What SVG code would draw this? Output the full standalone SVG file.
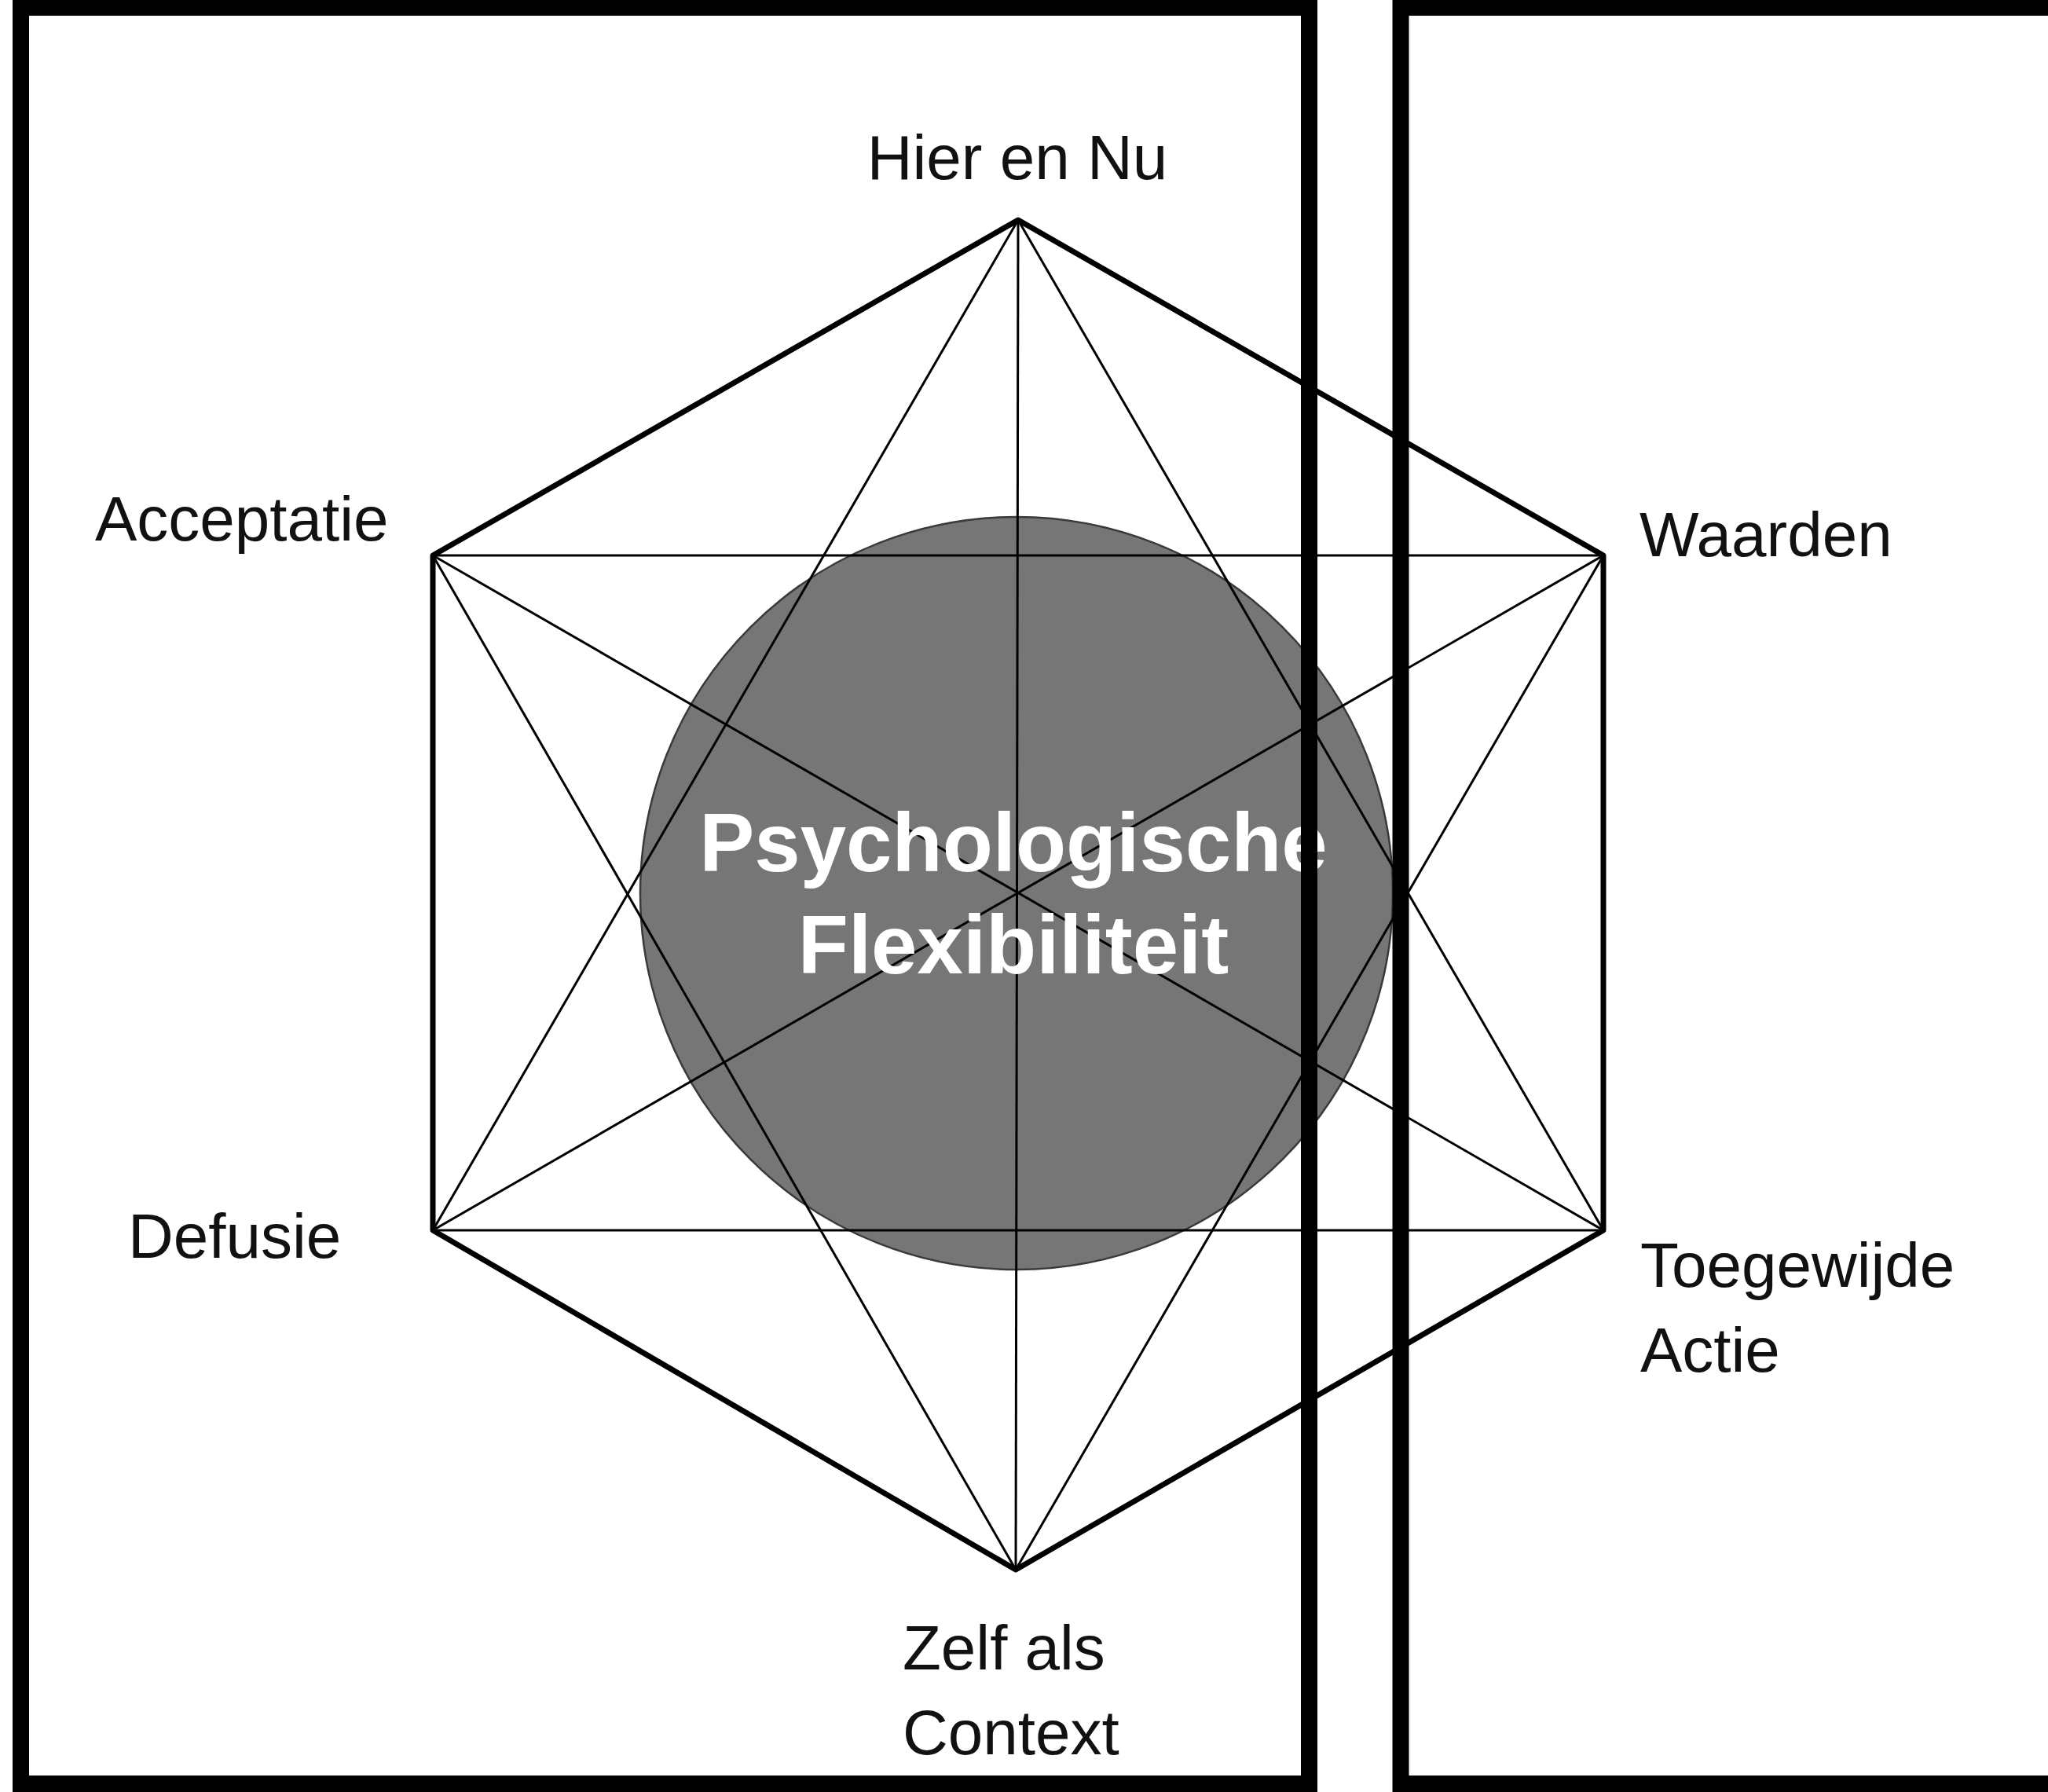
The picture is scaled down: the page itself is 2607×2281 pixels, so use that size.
<svg xmlns="http://www.w3.org/2000/svg" width="2607" height="2281" viewBox="0 0 2607 2281">
  <style>
    .thick { stroke: #000; stroke-width: 7; fill: none; stroke-linejoin: round; }
    .thin { stroke: #000; stroke-width: 3; fill: none; }
    .lbl { font-family: "Liberation Sans", Arial, sans-serif; font-size: 80px; fill: #111; }
    .center { font-family: "Liberation Sans", Arial, sans-serif; font-size: 105px; font-weight: bold; fill: #fff; text-anchor: middle; }
    .frame { fill: none; stroke: #000; stroke-width: 21; }
  </style>
  <rect x="0" y="0" width="2607" height="2281" fill="#fff"/>

  <g id="core">
    <circle cx="1294" cy="1137" r="479" fill="#767676" stroke="#3a3a3a" stroke-width="2.5"/>
  </g>

  <g id="connectors">
    <polygon class="thick" points="1296,280 2041,707 2041,1566 1293,1998 551,1566 551,707"/>
    <line class="thin" x1="551" y1="707" x2="2041" y2="707"/>
    <line class="thin" x1="551" y1="1566" x2="2041" y2="1566"/>
    <line class="thin" x1="1296" y1="280" x2="1293" y2="1998"/>
    <line class="thin" x1="551" y1="707" x2="2041" y2="1566"/>
    <line class="thin" x1="2041" y1="707" x2="551" y2="1566"/>
    <line class="thin" x1="1296" y1="280" x2="551" y2="1566"/>
    <line class="thin" x1="1296" y1="280" x2="2041" y2="1566"/>
    <line class="thin" x1="1293" y1="1998" x2="551" y2="707"/>
    <line class="thin" x1="1293" y1="1998" x2="2041" y2="707"/>
  </g>

  <g id="core-label">
    <text class="center" x="1290" y="1109">Psychologische</text>
    <text class="center" x="1290" y="1239">Flexibiliteit</text>
  </g>

  <g id="node-hier-en-nu">
    <text class="lbl" x="1295" y="228" text-anchor="middle">Hier en Nu</text>
  </g>
  <g id="node-acceptatie">
    <text class="lbl" x="121" y="688">Acceptatie</text>
  </g>
  <g id="node-waarden">
    <text class="lbl" x="2087" y="708">Waarden</text>
  </g>
  <g id="node-defusie">
    <text class="lbl" x="163" y="1601">Defusie</text>
  </g>
  <g id="node-toegewijde-actie">
    <text class="lbl" x="2088" y="1638">Toegewijde</text>
    <text class="lbl" x="2088" y="1746">Actie</text>
  </g>
  <g id="node-zelf-als-context">
    <text class="lbl" x="1149" y="2125">Zelf als</text>
    <text class="lbl" x="1149" y="2233">Context</text>
  </g>

  <g id="frames">
    <rect class="frame" x="26.5" y="9.5" width="1640" height="2261"/>
    <rect class="frame" x="1783" y="9.5" width="900" height="2261"/>
  </g>
</svg>
